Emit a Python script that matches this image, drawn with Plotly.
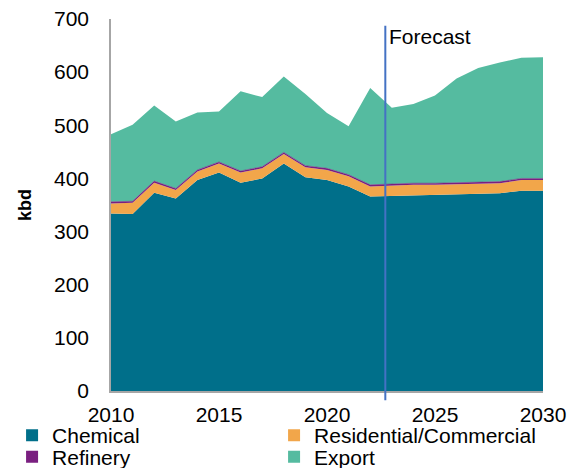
import plotly.graph_objects as go

# Values (kbd)
years = list(range(2010, 2031))
chemical = [334, 333, 373, 362, 397, 411, 392, 400, 428, 402, 397, 385, 366,
            367, 368, 369, 369, 370, 372, 377, 377]
residential = [19, 21, 19, 16, 16, 17, 19, 19, 18, 19, 19, 19, 19,
               20, 20, 19, 20, 19, 19, 20, 20]
refinery = [3, 3, 3, 3, 3, 3, 3, 3, 3, 3, 3, 3, 3,
            3, 3, 3, 3, 3, 3, 3, 3]
export = [127, 144, 142, 126, 108, 95, 150, 131, 143, 135, 104, 91, 182,
          143, 149, 165, 196, 216, 224, 227, 228]

names = ["Chemical", "Residential/Commercial", "Refinery", "Export"]
colors = ["#006F8A", "#F2A64A", "#7A1F80", "#55BBA0"]
series = [chemical, residential, refinery, export]
legend_rows = ["legend", "legend", "legend2", "legend2"]
forecast_year = 2022.7

fig = go.Figure()

# stacked areas
for name, vals, col in zip(names, series, colors):
    fig.add_trace(go.Scatter(
        x=years, y=vals, name=name, mode="lines", stackgroup="one",
        line=dict(width=0.5 if name == "Refinery" else 0, color=col),
        fillcolor=col, showlegend=False, hoverinfo="x+y+name",
    ))

# legend entries as square markers, two legends = two rows
for name, col, lg in zip(names, colors, legend_rows):
    fig.add_trace(go.Scatter(
        x=[None], y=[None], mode="markers", name=name, legend=lg,
        marker=dict(symbol="square", size=12, color=col),
    ))

fig.add_shape(type="line", xref="x", yref="paper",
              x0=forecast_year, x1=forecast_year, y0=-0.025, y1=0.982,
              line=dict(color="#4472C4", width=2))
fig.add_annotation(x=forecast_year, y=0.99, xref="x", yref="paper",
                   text="Forecast", showarrow=False, xanchor="left",
                   yanchor="top", xshift=2,
                   font=dict(size=21, color="#000000"))

legend_style = dict(orientation="h", x=-0.229, xanchor="left", yanchor="middle",
                    entrywidth=217, entrywidthmode="pixels", traceorder="normal",
                    font=dict(size=21), itemwidth=30, bgcolor="rgba(0,0,0,0)")

fig.update_layout(
    width=571, height=468,
    margin=dict(l=111, r=28, t=19, b=77, autoexpand=False),
    plot_bgcolor="white", paper_bgcolor="white",
    font=dict(family="Liberation Sans, Arial, sans-serif", size=21, color="#000000"),
    showlegend=True,
    legend=dict(y=-0.12, **legend_style),
    legend2=dict(y=-0.178, **legend_style),
    xaxis=dict(range=[2010, 2030], tickvals=[2010, 2015, 2020, 2025, 2030],
               showgrid=False, zeroline=False, showline=True,
               linecolor="#A6A6A6", linewidth=2, ticks="", ticklabelstandoff=4,
               tickfont=dict(size=21)),
    yaxis=dict(range=[0, 700], dtick=100, showgrid=False, zeroline=False,
               showline=True, linecolor="#A6A6A6", linewidth=1.5, ticks="",
               ticklabelstandoff=16, tickfont=dict(size=21),
               title=dict(text="<b>kbd</b>", font=dict(size=18), standoff=18)),
)

# page body has a default 8px margin; drop it so the figure fills the window
fig.write_html("out.html", config={"displayModeBar": False},
               post_script="document.body.style.margin='0';")
